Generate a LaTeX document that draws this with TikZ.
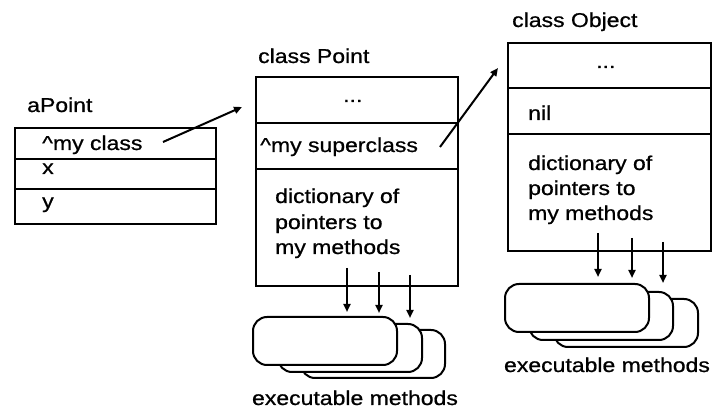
\documentclass[tikz,border=0pt]{standalone}
\usepackage{fontspec}
\setmainfont{Liberation Sans}[FakeStretch=1.15,FakeBold=0.8]
\usetikzlibrary{arrows.meta,positioning,calc}

\tikzset{
  slot/.style={draw,line width=2pt,rectangle,inner sep=0pt,anchor=north west},
  txt/.style={anchor=base west,inner sep=0pt},
  meth/.style={draw,line width=2pt,fill=white,rounded corners=14pt,
    minimum width=144pt,minimum height=48pt,inner sep=0pt},
  arr/.style={->,line width=2pt}
}

\begin{document}
\begin{tikzpicture}[x=1pt,y=-1pt,>={Triangle[length=8pt,width=7pt]},
    every node/.append style={font=\fontsize{20}{24}\selectfont}]
    \useasboundingbox (0,0) rectangle (713,411);

    % instance aPoint
    \node[txt] (lapoint) at (27,112) {aPoint};
    \node[slot,minimum width=201pt,minimum height=31pt] (myclass) at (14,127) {};
    \node[slot,minimum width=201pt,minimum height=30pt] (x) at (14,158) {};
    \node[slot,minimum width=201pt,minimum height=35pt] (y) at (14,188) {};
    \node[txt] (tmyclass) at (42,150) {\^{}my class};
    \node[txt] (tx) at (42,174) {x};
    \node[txt] (ty) at (42,208) {y};

    % class Point
    \node[txt] (lpoint) at (258,63) {class Point};
    \node[slot,minimum width=202pt,minimum height=46pt] (pttop) at (255,76) {};
    \node[slot,minimum width=202pt,minimum height=46pt] (ptsuper) at (255,122) {};
    \node[slot,minimum width=202pt,minimum height=117pt] (ptdict) at (255,168) {};
    \node[txt] (ptdots) at (343,102) {...};
    \node[txt] (tptsuper) at (260,152) {\^{}my superclass};
    \node[txt] (tptdict) at (275,203) {dictionary of};
    \node[txt] at (275,229) {pointers to};
    \node[txt] at (275,254) {my methods};

    % class Object
    \node[txt] (lobject) at (512,27) {class Object};
    \node[slot,minimum width=203pt,minimum height=45pt] (objtop) at (507,42) {};
    \node[slot,minimum width=203pt,minimum height=46pt] (objsuper) at (507,87) {};
    \node[slot,minimum width=203pt,minimum height=117pt] (objdict) at (507,133) {};
    \node[txt] (objdots) at (596,68) {...};
    \node[txt] (tobjsuper) at (528,120) {nil};
    \node[txt] (tobjdict) at (528,170) {dictionary of};
    \node[txt] at (528,195) {pointers to};
    \node[txt] at (528,220) {my methods};

    % executable methods
    \node[meth] (ptm3) at (373,354) {};
    \node[meth] (ptm2) at (350,348) {};
    \node[meth] (ptm1) at (325,341) {};
    \node[anchor=base,inner sep=0pt] (lptm) at (355,405) {executable methods};

    \node[meth] (objm3) at (626,323) {};
    \node[meth] (objm2) at (601,316) {};
    \node[meth] (objm1) at (577,308) {};
    \node[anchor=base,inner sep=0pt] (lobjm) at (607,372) {executable methods};

    % pointers
    \coordinate (cls0) at (163,142);
    \coordinate (cls1) at (242,107);
    \draw[arr] (cls0) -- (cls1);
    \coordinate (sup0) at (440,147);
    \coordinate (sup1) at (498,68);
    \draw[arr] (sup0) -- (sup1);

    \foreach \i/\x/\ya/\yb in {1/347/268/312,2/379/272/313,3/410/275/318}{
      \coordinate (pa\i) at (\x,\ya);
      \coordinate (pb\i) at (\x,\yb);
      \draw[arr] (pa\i) -- (pb\i);
    }
    \foreach \i/\x/\ya/\yb in {1/598/233/277,2/632/238/278,3/663/242/283}{
      \coordinate (oa\i) at (\x,\ya);
      \coordinate (ob\i) at (\x,\yb);
      \draw[arr] (oa\i) -- (ob\i);
    }
\end{tikzpicture}
\end{document}
